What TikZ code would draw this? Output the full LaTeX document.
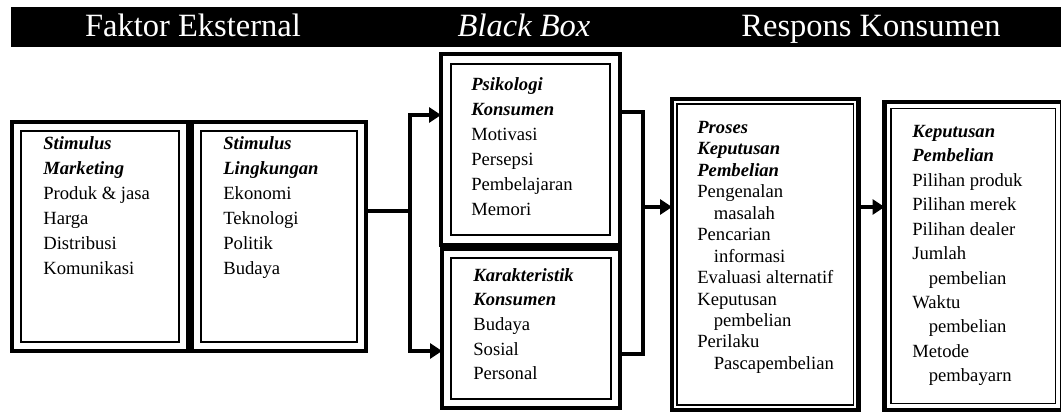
\documentclass[tikz,border=0pt]{standalone}
\usepackage{fontspec}
\setmainfont{Liberation Serif}
\usetikzlibrary{arrows.meta}

\newcommand{\judul}[1]{\textbf{\textit{#1}}}
\newcommand{\subline}[1]{\hspace*{0.33cm}#1}

\begin{document}
\begin{tikzpicture}[x=0.02cm, y=-0.02cm,
    box node/.style={draw, line width=2.6pt, anchor=north west, inner sep=0pt, outer sep=0pt,
        path picture={\draw[line width=0.9pt] ([shift={(#1,-#1)}]path picture bounding box.north west) rectangle ([shift={(-#1,#1)}]path picture bounding box.south east);}},
    box node/.default=0.18cm,
    txt node/.style={anchor=north west, align=left, inner sep=0pt, font=\fontsize{10.6pt}{14.2pt}\selectfont},
    title node/.style={anchor=base, text=white, inner sep=0pt, font=\fontsize{18.5pt}{22pt}\selectfont},
    conn/.style={line width=2.6pt},
    arr/.style={conn, -{Triangle[length=0.24cm, width=0.3cm]}}]
\useasboundingbox (0,0) rectangle (1061,412);

\node[fill=black, anchor=north west, inner sep=0pt, minimum width=21cm, minimum height=0.8cm] (bar) at (11,7) {};
\node[title node] (ext) at (193,37) {Faktor Eksternal};
\node[title node] (bbx) at (524,37) {\textit{Black Box}};
\node[title node] (rsp) at (871,37) {Respons Konsumen};

\node[box node, minimum width=3.52cm, minimum height=4.58cm] (mkt) at (12,122) {};
\node[box node, minimum width=3.48cm, minimum height=4.58cm] (lkg) at (192,122) {};
\node[box node=0.2cm, minimum width=3.58cm, minimum height=3.82cm] (psi) at (441,54) {};
\node[box node, minimum width=3.56cm, minimum height=3.18cm] (kar) at (442,249) {};
\node[box node=0.1cm, minimum width=3.73cm, minimum height=6.22cm] (pro) at (672,99) {};
\node[box node=0.13cm, minimum width=3.55cm, minimum height=6.16cm] (dec) at (884.5,102) {};

\node[txt node] (tmkt) at (43,136) {\judul{Stimulus}\\ \judul{Marketing}\\ Produk \& jasa\\ Harga\\ Distribusi\\ Komunikasi};
\node[txt node] (tlkg) at (223,136) {\judul{Stimulus}\\ \judul{Lingkungan}\\ Ekonomi\\ Teknologi\\ Politik\\ Budaya};
\node[txt node] (tpsi) at (471,77) {\judul{Psikologi}\\ \judul{Konsumen}\\ Motivasi\\ Persepsi\\ Pembelajaran\\ Memori};
\node[txt node, font=\fontsize{10.6pt}{14pt}\selectfont] (tkar) at (473,268) {\judul{Karakteristik}\\ \judul{Konsumen}\\ Budaya\\ Sosial\\ Personal};
\node[txt node, font=\fontsize{10.6pt}{12.2pt}\selectfont] (tpro) at (697,121) {\judul{Proses}\\ \judul{Keputusan}\\ \judul{Pembelian}\\ Pengenalan\\ \subline{masalah}\\ Pencarian\\ \subline{informasi}\\ Evaluasi alternatif\\ Keputusan\\ \subline{pembelian}\\ Perilaku\\ \subline{Pascapembelian}};
\node[txt node, font=\fontsize{10.6pt}{13.9pt}\selectfont] (tdec) at (912,125) {\judul{Keputusan}\\ \judul{Pembelian}\\ Pilihan produk\\ Pilihan merek\\ Pilihan dealer\\ Jumlah\\ \subline{pembelian}\\ Waktu\\ \subline{pembelian}\\ Metode\\ \subline{pembayarn}};

\coordinate (jx) at (410,211);
\coordinate (ja) at (410,115);
\coordinate (jb) at (410,351);
\draw[conn] (lkg.east |- jx) -- (jx);
\draw[arr] (jx) |- (ja -| psi.west);
\draw[arr] (jx) |- (jb -| kar.west);

\coordinate (ka) at (643,112);
\coordinate (kb) at (643,354);
\coordinate (kx) at (643,207);
\draw[conn] (psi.east |- ka) -| (kb) -- (kar.east |- kb);
\draw[arr] (kx) -- (kx -| pro.west);
\draw[arr] (pro.east |- kx) -- (kx -| dec.west);
\end{tikzpicture}
\end{document}
